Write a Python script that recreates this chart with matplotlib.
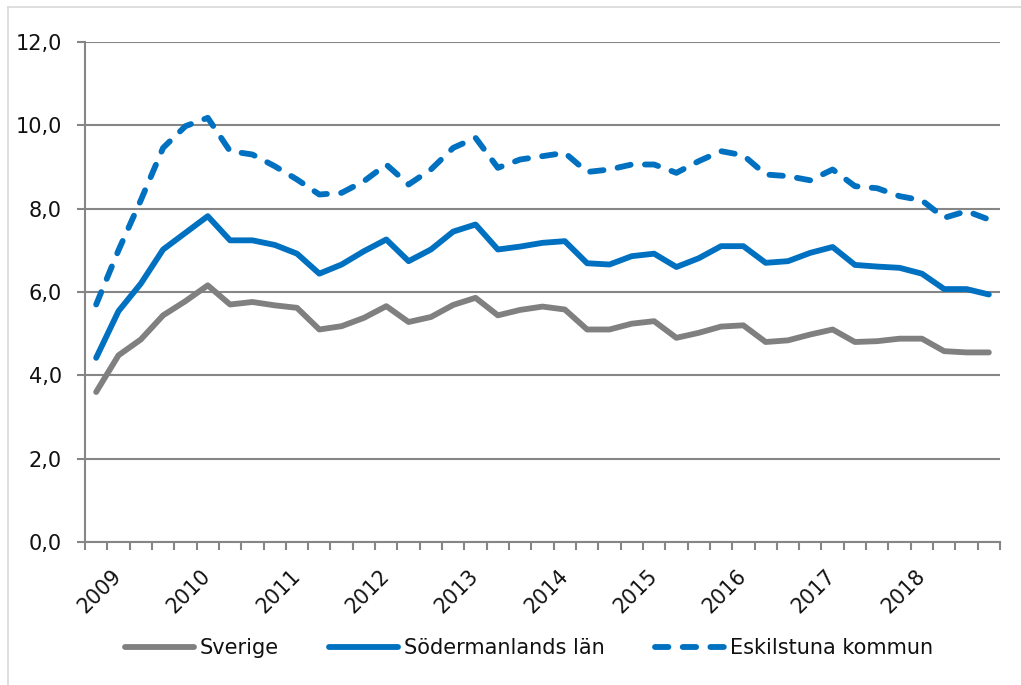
import matplotlib
matplotlib.use("Agg")
import matplotlib.pyplot as plt
from matplotlib.lines import Line2D
import numpy as np

# ---- data (quarterly, 41 points) ----
sverige = [3.6, 4.48, 4.86, 5.44, 5.78, 6.16, 5.7, 5.76, 5.68, 5.62, 5.1,
           5.18, 5.38, 5.66, 5.28, 5.4, 5.69, 5.86, 5.44, 5.57, 5.65,
           5.58, 5.1, 5.1, 5.24, 5.3, 4.9, 5.02, 5.17, 5.2, 4.8,
           4.84, 4.98, 5.1, 4.8, 4.82, 4.88, 4.88, 4.58, 4.55, 4.55]
sodermanland = [4.42, 5.54, 6.2, 7.02, 7.42, 7.82, 7.24, 7.24, 7.13, 6.92, 6.44,
                6.66, 6.98, 7.26, 6.74, 7.02, 7.45, 7.62, 7.02, 7.09, 7.18,
                7.22, 6.69, 6.66, 6.86, 6.92, 6.6, 6.81, 7.1, 7.1, 6.7,
                6.74, 6.94, 7.08, 6.65, 6.61, 6.58, 6.44, 6.07, 6.07, 5.94]
eskilstuna = [5.7, 7.0, 8.2, 9.46, 9.98, 10.18, 9.38, 9.3, 9.02, 8.7, 8.34,
              8.38, 8.66, 9.06, 8.58, 8.94, 9.46, 9.7, 8.98, 9.18, 9.26,
              9.34, 8.88, 8.94, 9.06, 9.06, 8.86, 9.14, 9.38, 9.28, 8.82,
              8.78, 8.68, 8.94, 8.54, 8.49, 8.3, 8.2, 7.78, 7.94, 7.74]
year_labels = ["2009", "2010", "2011", "2012", "2013", "2014",
               "2015", "2016", "2017", "2018"]
year_positions = [1, 5, 9, 13, 17, 21, 25, 29, 33, 37]
series_names = ["Sverige", "Södermanlands län", "Eskilstuna kommun"]

GRAY = "#808080"
BLUE = "#0070C0"
GRID = "#868686"

plt.rcParams['font.family'] = ['DejaVu Sans']

fig = plt.figure(figsize=(10.21, 6.85), dpi=100)
W, H = 1021, 685
ax = fig.add_axes([85 / W, 1 - 542 / H, 915 / W, 500 / H])

x = np.arange(len(sverige))
lw = 4.2
ax.plot(x, sverige, color=GRAY, lw=lw, solid_joinstyle='round',
        solid_capstyle='round', label=series_names[0], zorder=3)
ax.plot(x, sodermanland, color=BLUE, lw=lw, solid_joinstyle='round',
        solid_capstyle='round', label=series_names[1], zorder=3)
ax.plot(x, eskilstuna, color=BLUE, lw=lw, dashes=(2.3, 2.45),
        dash_capstyle='round', dash_joinstyle='round',
        label=series_names[2], zorder=3)

ax.set_xlim(-0.5, len(sverige) - 0.5)
ax.set_ylim(0, 12)
ax.set_yticks(np.arange(0, 12.1, 2))
ax.set_yticklabels([f"{v:.1f}".replace(".", ",") for v in np.arange(0, 12.1, 2)])
ax.yaxis.grid(True, color=GRID, lw=1.5)
ax.set_axisbelow(True)

ax.set_xticks(year_positions)
ax.set_xticklabels(year_labels, rotation=45, ha='right', va='center',
                   rotation_mode='anchor')
ax.set_xticks(np.arange(-0.5, len(sverige)), minor=True)
ax.tick_params(axis='x', which='major', length=0, pad=22, labelsize=14.8,
               colors='#111111')
ax.tick_params(axis='x', which='minor', length=5.5, width=1.5, color=GRID,
               direction='out')
ax.tick_params(axis='y', which='major', length=6, width=1.5, color=GRID,
               pad=10.5, labelsize=15, labelcolor='#111111')

for s in ['top', 'right']:
    ax.spines[s].set_visible(False)
for s in ['left', 'bottom']:
    ax.spines[s].set_color(GRID)
    ax.spines[s].set_linewidth(1.5)

leg = fig.legend(loc='center', bbox_to_anchor=(0.518, 1 - 648 / H), ncol=3,
                 frameon=False, fontsize=15, handlelength=3.3,
                 handletextpad=0.3, columnspacing=2.4)
for t in leg.get_texts():
    t.set_color('#111111')

# chart-area border (top and left)
fig.add_artist(Line2D([8 / W, 1.0], [1 - 7 / H, 1 - 7 / H],
                      transform=fig.transFigure, color="#d9d9d9", lw=1.2))
fig.add_artist(Line2D([8 / W, 8 / W], [0.0, 1 - 7 / H],
                      transform=fig.transFigure, color="#d9d9d9", lw=1.2))

fig.savefig("out.png", dpi=100)
